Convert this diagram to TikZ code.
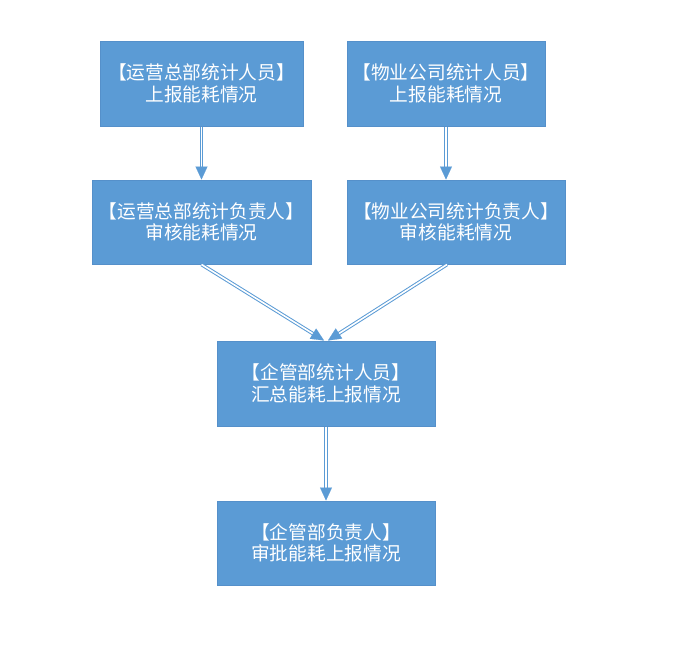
\documentclass[tikz,border=0pt]{standalone}
\usepackage{fontspec}
\newfontfamily\cjk{Noto Sans CJK SC}
\usetikzlibrary{arrows.meta,calc}
\definecolor{boxblue}{HTML}{5B9BD5}
\definecolor{boxedge}{HTML}{5590CA}
\tikzset{
  flowbox/.style={rectangle, fill=boxblue, draw=boxedge, line width=1pt, text=white,
    align=center, inner sep=0pt, font=\cjk\fontsize{18.7}{21.5}\selectfont},
  dblshaft/.style={draw=boxblue, double=white, line width=1pt, double distance=1.6pt, shorten >=11pt},
  headtip/.style={draw=boxblue, fill=boxblue, line width=0.1pt, -{Triangle[length=13pt,width=12pt]}}
}
\begin{document}
\begin{tikzpicture}[x=1pt,y=-1pt]
\useasboundingbox (0,0) rectangle (681,653);
\node[flowbox, minimum width=203pt, minimum height=85pt] (a) at (201.5,83.5) {【运营总部统计人员】\\上报能耗情况};
\node[flowbox, minimum width=198pt, minimum height=85pt] (b) at (446,83.5) {【物业公司统计人员】\\上报能耗情况};
\node[flowbox, minimum width=219pt, minimum height=84pt] (c) at (201.5,222) {【运营总部统计负责人】\\审核能耗情况};
\node[flowbox, minimum width=218pt, minimum height=84pt] (d) at (456,222) {【物业公司统计负责人】\\审核能耗情况};
\node[flowbox, minimum width=218pt, minimum height=85pt] (e) at (326,383.5) {【企管部统计人员】\\汇总能耗上报情况};
\node[flowbox, minimum width=218pt, minimum height=84pt] (f) at (326,543) {【企管部负责人】\\审批能耗上报情况};
% connector end points
\coordinate (as) at (a.south);
\coordinate (cn) at (a.south |- c.north);
\coordinate (bs) at (b.south);
\coordinate (dn) at (b.south |- d.north);
\coordinate (cs) at (c.south);
\coordinate (ds) at ([xshift=-9pt]d.south);
\coordinate (el) at ([xshift=-2pt]e.north);
\coordinate (er) at ([xshift=2pt]e.north);
\coordinate (es) at (e.south);
\coordinate (fn) at (f.north);
% arrows
\foreach \s/\t in {as/cn, bs/dn, cs/el, ds/er, es/fn}{
  \draw[dblshaft] (\s) -- (\t);
  \draw[headtip] ($(\t)!13pt!(\s)$) -- (\t);
}
\end{tikzpicture}
\end{document}
